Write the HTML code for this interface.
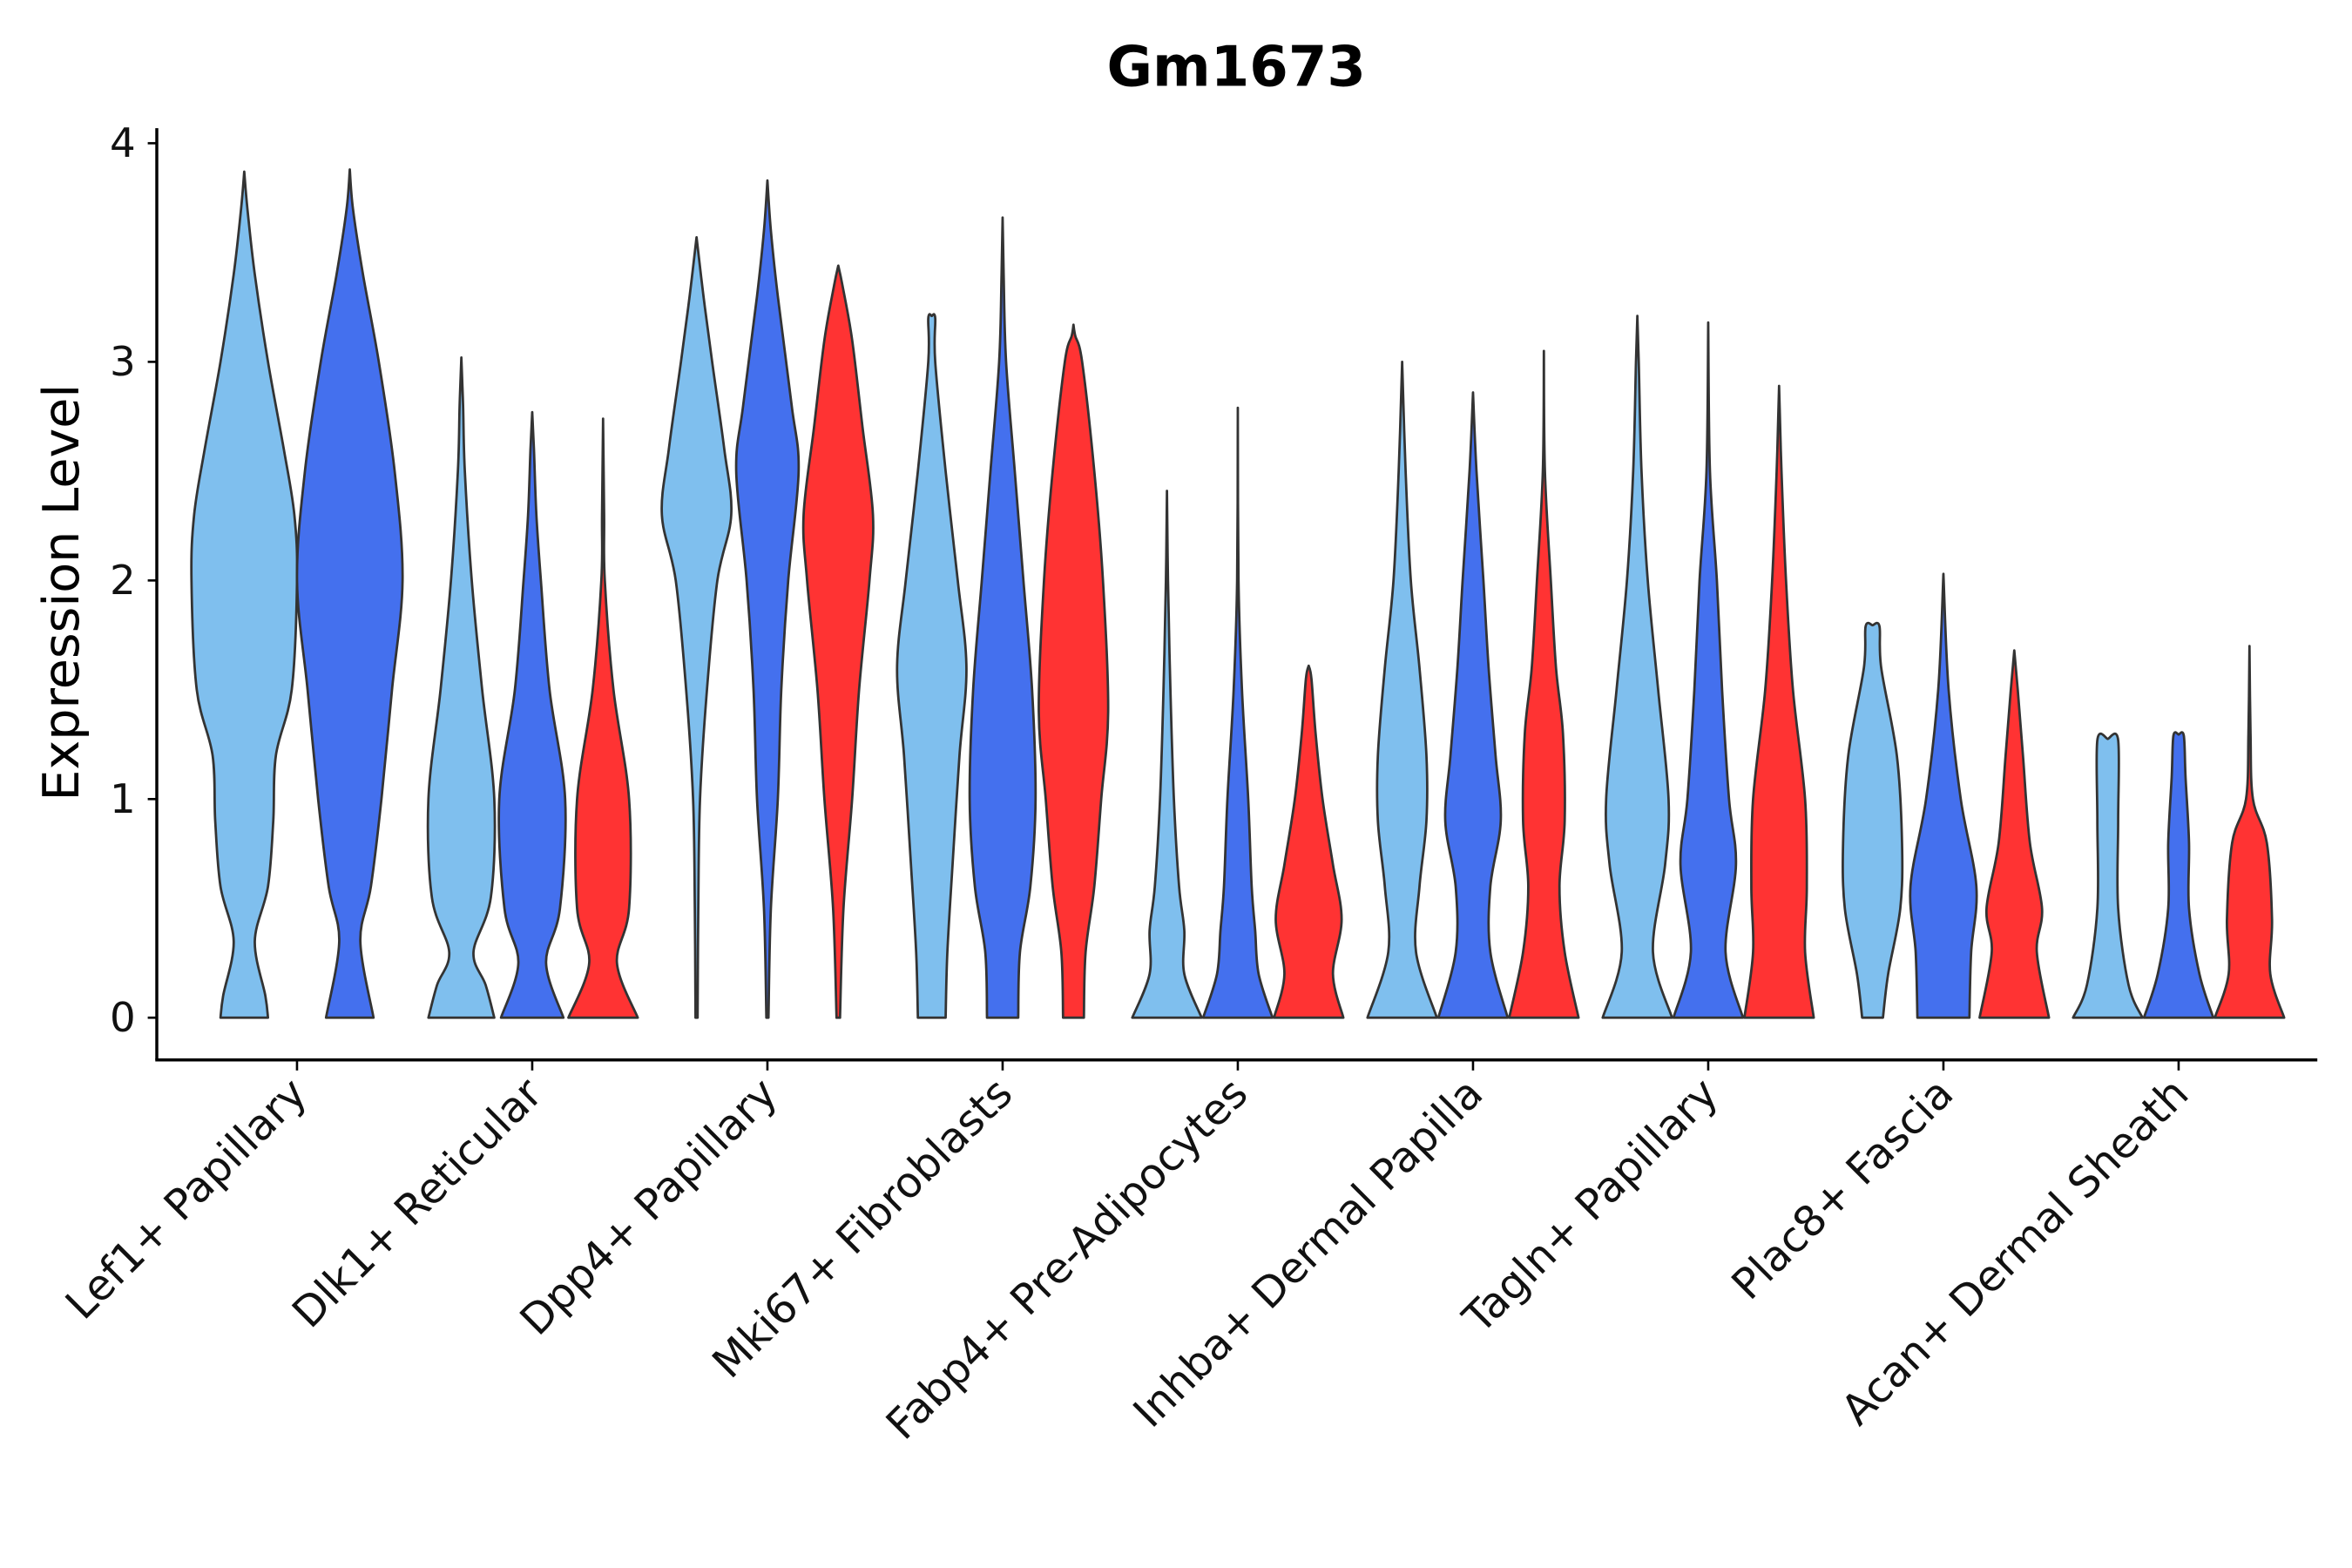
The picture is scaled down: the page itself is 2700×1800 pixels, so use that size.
<!DOCTYPE html>
<html><head><meta charset="utf-8"><style>html,body{margin:0;padding:0;background:#fff}svg{display:block}text{font-family:"DejaVu Sans","Liberation Sans",sans-serif}</style></head>
<body>
<svg id="chart" width="2700" height="1800" viewBox="0 0 1560 1040" xmlns="http://www.w3.org/2000/svg">
<rect width="1560" height="1040" fill="#fff"/>
<text x="820" y="57" text-anchor="middle" font-size="37" font-weight="bold">Gm1673</text>
<text transform="translate(52,393) rotate(-90)" text-anchor="middle" font-size="33">Expression Level</text>
<g id="plot"></g>
</svg>
<script>
const categories=["Lef1+ Papillary","Dlk1+ Reticular","Dpp4+ Papillary","Mki67+ Fibroblasts","Fabp4+ Pre-Adipocytes","Inhba+ Dermal Papilla","Tagln+ Papillary","Plac8+ Fascia","Acan+ Dermal Sheath"];
const yTicks=[0,1,2,3,4];
const groupColors=["#7fbfee","#4470ee","#ff3333"];
// each violin: [categoryIndex, groupIndex, nGroups]
const violinGroups=[[0,0,2],[0,1,2],[1,0,3],[1,1,3],[1,2,3],[2,0,3],[2,1,3],[2,2,3],[3,0,3],[3,1,3],[3,2,3],[4,0,3],[4,1,3],[4,2,3],[5,0,3],[5,1,3],[5,2,3],[6,0,3],[6,1,3],[6,2,3],[7,0,3],[7,1,3],[7,2,3],[8,0,3],[8,1,3],[8,2,3]];
// expression levels and relative density widths per violin
const violinLevels=[
[0,0.1,0.35,0.6,0.9,1.2,1.5,2.0,2.3,2.6,3.0,3.4,3.7,3.87],
[0,0.35,0.6,1.0,1.5,2.0,2.5,3.0,3.4,3.7,3.88],
[0,0.15,0.3,0.55,1.0,1.5,2.0,2.5,2.8,3.02],
[0,0.25,0.5,1.0,1.5,2.0,2.3,2.6,2.77],
[0,0.25,0.5,1.0,1.5,2.0,2.3,2.74],
[0,0.5,1.0,1.5,2.0,2.3,2.6,3.0,3.3,3.57],
[0,0.5,1.0,1.5,2.0,2.5,2.8,3.3,3.6,3.83],
[0,0.5,1.0,1.5,2.0,2.3,2.7,3.1,3.35,3.44],
[0,0.3,0.7,1.2,1.6,2.0,2.5,3.0,3.2,3.21],
[0,0.3,0.6,1.0,1.5,2.0,2.5,3.0,3.4,3.66],
[0,0.3,0.6,1.0,1.4,2.0,2.5,3.0,3.12,3.17],
[0,0.2,0.4,0.6,1.0,1.5,2.0,2.41],
[0,0.2,0.4,0.6,1.0,1.5,2.0,2.79],
[0,0.2,0.45,0.7,1.0,1.3,1.55,1.61],
[0,0.3,0.6,0.9,1.2,1.6,2.0,2.5,3.0],
[0,0.3,0.6,0.9,1.2,1.6,2.0,2.5,2.86],
[0,0.3,0.6,0.9,1.3,1.6,2.0,2.5,3.05],
[0,0.3,0.7,1.0,1.5,2.0,2.5,3.0,3.21],
[0,0.3,0.7,1.0,1.5,2.0,2.5,3.18],
[0,0.3,0.6,1.0,1.5,2.0,2.5,2.89],
[0,0.2,0.5,0.8,1.2,1.6,1.79,1.795],
[0,0.3,0.6,1.0,1.5,2.03],
[0,0.3,0.5,0.8,1.2,1.5,1.68],
[0,0.15,0.5,0.9,1.27,1.275],
[0,0.2,0.5,0.8,1.1,1.29,1.295],
[0,0.2,0.45,0.8,1.0,1.3,1.7]];
const violinWidths=[
[0.45,0.4,0.2,0.45,0.55,0.6,0.9,1.0,0.95,0.75,0.45,0.2,0.06,0],
[0.45,0.2,0.4,0.6,0.8,1.0,0.85,0.55,0.25,0.06,0],
[0.95,0.7,0.35,0.85,0.95,0.6,0.3,0.1,0.05,0],
[0.9,0.4,0.8,0.95,0.5,0.25,0.12,0.05,0],
[1.0,0.4,0.75,0.75,0.3,0.05,0.03,0],
[0.03,0.05,0.1,0.3,0.6,1.0,0.8,0.45,0.2,0],
[0.03,0.1,0.3,0.4,0.6,0.9,0.7,0.3,0.1,0],
[0.05,0.15,0.4,0.6,0.9,1.0,0.7,0.4,0.12,0],
[0.4,0.45,0.6,0.8,1.0,0.75,0.4,0.1,0.1,0],
[0.45,0.5,0.8,0.95,0.85,0.6,0.35,0.1,0.03,0],
[0.3,0.35,0.6,0.8,1.0,0.85,0.6,0.25,0.05,0],
[1.0,0.5,0.5,0.35,0.2,0.1,0.03,0],
[1.0,0.6,0.5,0.4,0.3,0.12,0.02,0],
[1.0,0.7,0.95,0.7,0.4,0.2,0.08,0],
[1.0,0.4,0.5,0.7,0.7,0.5,0.25,0.1,0],
[1.0,0.5,0.5,0.8,0.65,0.45,0.3,0.1,0],
[1.0,0.6,0.45,0.6,0.55,0.35,0.2,0.03,0],
[1.0,0.45,0.8,0.9,0.6,0.3,0.12,0.04,0],
[1.0,0.5,0.8,0.6,0.4,0.25,0.05,0],
[1.0,0.75,0.8,0.75,0.4,0.2,0.07,0],
[0.3,0.45,0.8,0.85,0.7,0.25,0.2,0],
[0.75,0.8,0.95,0.5,0.15,0],
[1.0,0.65,0.8,0.45,0.25,0.1,0],
[1.0,0.6,0.3,0.3,0.3,0],
[1.0,0.6,0.3,0.3,0.2,0.15,0],
[1.0,0.6,0.65,0.5,0.1,0.03,0]];
</script>
<script>
const NS="http://www.w3.org/2000/svg";
const plot=document.getElementById('plot');
const X0=104,X1=1537,YB=703,YT=85;
const yScale=v=>675-v*145;
const xCat=i=>197+i*156;
function mk(tag,attrs,parent){const e=document.createElementNS(NS,tag);for(const k in attrs)e.setAttribute(k,attrs[k]);(parent||plot).appendChild(e);return e;}
function smooth(pts){let d="M"+pts[0][0].toFixed(2)+","+pts[0][1].toFixed(2);
 for(let i=0;i<pts.length-1;i++){const p0=pts[Math.max(0,i-1)],p1=pts[i],p2=pts[i+1],p3=pts[Math.min(pts.length-1,i+2)];
  const c1=[p1[0]+(p2[0]-p0[0])/6,p1[1]+(p2[1]-p0[1])/6],c2=[p2[0]-(p3[0]-p1[0])/6,p2[1]-(p3[1]-p1[1])/6];
  d+="C"+c1[0].toFixed(2)+","+c1[1].toFixed(2)+" "+c2[0].toFixed(2)+","+c2[1].toFixed(2)+" "+p2[0].toFixed(2)+","+p2[1].toFixed(2);}
 return d;}
violinGroups.forEach((g,k)=>{
 const [ci,gi,n]=g;
 const off=n===2?(gi-0.5)*70:(gi-1)*47;
 const half=n===2?35:23;
 const cx=xCat(ci)+off;
 const lv=violinLevels[k],wd=violinWidths[k];
 const right=lv.map((v,i)=>[cx+wd[i]*half,yScale(v)]);
 const left=lv.map((v,i)=>[cx-wd[i]*half,yScale(v)]).reverse();
 let d=smooth(right);
 const l=smooth(left).replace(/^M/,"L");
 d+=l+"Z";
 const p=mk('path',{d:d,fill:groupColors[gi],stroke:'#333','stroke-width':1.6,'stroke-linejoin':'round'});
 
 
});
// axes
const ya=mk('line',{x1:X0,y1:YT,x2:X0,y2:YB,stroke:'#000','stroke-width':2});


const xa=mk('line',{x1:X0-1,y1:YB,x2:X1,y2:YB,stroke:'#000','stroke-width':2});


yTicks.forEach(t=>{const y=yScale(t);
 mk('line',{x1:X0-6,y1:y,x2:X0,y2:y,stroke:'#000','stroke-width':1.5});
 const tx=mk('text',{x:X0-14,y:y+9,'text-anchor':'end','font-size':27,fill:'#111'});tx.textContent=t;
 
 
});
categories.forEach((c,i)=>{const x=xCat(i);
 mk('line',{x1:x,y1:YB,x2:x,y2:YB+7,stroke:'#000','stroke-width':1.5});
 const tx=mk('text',{transform:`translate(${x+8},${YB+24}) rotate(-45)`,'text-anchor':'end','font-size':28,fill:'#111'});tx.textContent=c;
 
 
});
</script>
</body></html>
